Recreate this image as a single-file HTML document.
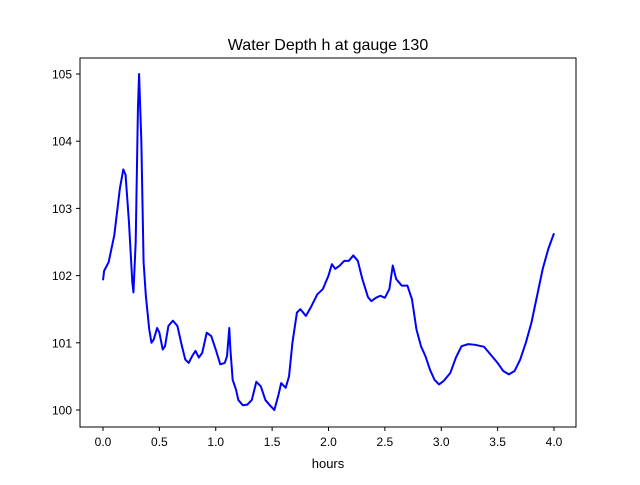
<!DOCTYPE html>
<html><head><meta charset="utf-8"><style>
body{margin:0;background:#fff}
svg text{font-family:"Liberation Sans","DejaVu Sans",sans-serif;fill:#000}
</style></head><body>
<svg id="chart" width="640" height="480">
<rect x="0" y="0" width="640" height="480" fill="#fff"/>
<text x="328" y="50" font-size="16" text-anchor="middle">Water Depth h at gauge 130</text>
<g id="xticks"></g>
<g id="yticks"></g>
<text x="328" y="468" font-size="13" text-anchor="middle">hours</text>
<polyline id="line" fill="none" stroke="#0000ff" stroke-width="2" stroke-linejoin="round"/>
<rect x="80" y="58" width="496" height="369" fill="none" stroke="#000" stroke-width="1"/>
</svg>
<script>
const hours=[0,0.01,0.05,0.1,0.15,0.18,0.2,0.23,0.26,0.27,0.29,0.31,0.32,0.34,0.36,0.38,0.41,0.43,0.45,0.48,0.5,0.53,0.55,0.58,0.62,0.66,0.7,0.73,0.76,0.79,0.82,0.85,0.88,0.92,0.96,1.0,1.04,1.08,1.1,1.12,1.13,1.15,1.18,1.2,1.24,1.28,1.32,1.36,1.4,1.44,1.48,1.52,1.56,1.58,1.62,1.65,1.68,1.72,1.75,1.8,1.85,1.9,1.95,2.0,2.03,2.06,2.1,2.14,2.18,2.22,2.26,2.3,2.35,2.38,2.42,2.46,2.5,2.54,2.57,2.6,2.65,2.7,2.74,2.78,2.82,2.86,2.9,2.94,2.98,3.02,3.08,3.13,3.18,3.24,3.3,3.38,3.44,3.5,3.55,3.6,3.65,3.7,3.75,3.8,3.85,3.9,3.95,4.0];
const depth=[101.93,102.07,102.2,102.6,103.3,103.58,103.5,102.8,101.9,101.75,102.5,104.5,105.0,104.0,102.2,101.7,101.2,101.0,101.05,101.22,101.15,100.9,100.95,101.25,101.33,101.25,100.95,100.75,100.7,100.8,100.88,100.78,100.85,101.15,101.1,100.9,100.68,100.7,100.8,101.22,100.9,100.45,100.3,100.15,100.07,100.08,100.15,100.42,100.35,100.15,100.07,100.0,100.25,100.4,100.33,100.5,101.0,101.45,101.5,101.4,101.55,101.72,101.8,102.0,102.17,102.1,102.15,102.22,102.22,102.3,102.22,101.95,101.68,101.62,101.67,101.7,101.67,101.8,102.15,101.95,101.85,101.85,101.65,101.2,100.95,100.8,100.6,100.45,100.38,100.43,100.55,100.78,100.95,100.98,100.97,100.94,100.82,100.7,100.58,100.53,100.58,100.75,101.0,101.3,101.7,102.1,102.4,102.63];
const xTicks=[0,0.5,1,1.5,2,2.5,3,3.5,4];
const yTicks=[100,101,102,103,104,105];
const X=v=>103+v*112.75;
const Y=v=>410-(v-100)*67.2;
const NS="http://www.w3.org/2000/svg";
document.getElementById('line').setAttribute('points',hours.map((h,i)=>X(h)+','+Y(depth[i])).join(' '));
const xg=document.getElementById('xticks');
xTicks.forEach(t=>{
 const l=document.createElementNS(NS,'line');
 
 
 l.setAttribute('x1',X(t));l.setAttribute('x2',X(t));l.setAttribute('y1',427);l.setAttribute('y2',431);l.setAttribute('stroke','#000');
 xg.appendChild(l);
 const tx=document.createElementNS(NS,'text');
 
 
 tx.setAttribute('x',X(t));tx.setAttribute('y',446);tx.setAttribute('font-size','12');tx.setAttribute('text-anchor','middle');
 tx.textContent=t.toFixed(1);xg.appendChild(tx);
});
const yg=document.getElementById('yticks');
yTicks.forEach(t=>{
 const l=document.createElementNS(NS,'line');
 
 
 l.setAttribute('x1',76);l.setAttribute('x2',80);l.setAttribute('y1',Y(t));l.setAttribute('y2',Y(t));l.setAttribute('stroke','#000');
 yg.appendChild(l);
 const tx=document.createElementNS(NS,'text');
 
 
 tx.setAttribute('x',72);tx.setAttribute('y',Y(t)+4.5);tx.setAttribute('font-size','12');tx.setAttribute('text-anchor','end');
 tx.textContent=t;yg.appendChild(tx);
});
</script>
</body></html>
